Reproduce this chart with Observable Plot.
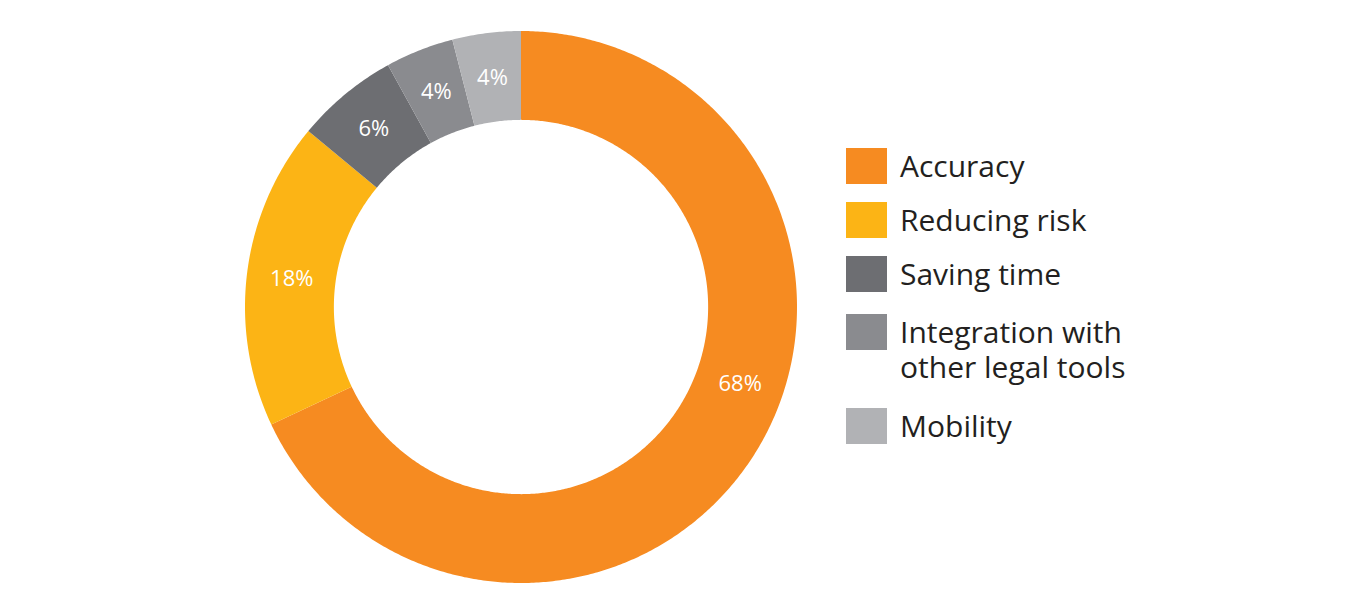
<!DOCTYPE html>
<html>
<head>
<meta charset="utf-8">
<script src="https://cdn.jsdelivr.net/npm/d3@7"></script>
<script src="https://cdn.jsdelivr.net/npm/@observablehq/plot@0.6"></script>
<style>
  html, body { margin: 0; padding: 0; background: #fff; }
  #wrap { position: relative; width: 1349px; height: 615px; font-family: "Open Sans", sans-serif; }
  #legend { position: absolute; left: 846px; top: 148px; color: #231f20; }
  .item { display: flex; align-items: flex-start; }
  .sw { width: 41px; height: 36px; flex: none; margin-right: 13px; }
  .lbl { font-size: 30px; line-height: 35px; white-space: nowrap; }
</style>
</head>
<body>
<div id="wrap"></div>
<script>
// ---- data ----
const categories = ["Accuracy", "Reducing risk", "Saving time", "Integration with other legal tools", "Mobility"];
const values = [68, 18, 6, 4, 4];
const valueLabels = ["68%", "18%", "6%", "4%", "4%"];
const legendLines = [["Accuracy"], ["Reducing risk"], ["Saving time"], ["Integration with", "other legal tools"], ["Mobility"]];
const colors = ["#F68B21", "#FCB415", "#6D6E72", "#8A8B8F", "#B1B2B5"];

// ---- geometry from data ----
const innerRatio = 0.678;
const rows = categories.map((c, i) => ({category: c, value: values[i], label: valueLabels[i]}));
const arcs = d3.pie().sort(null).value(d => d.value)(rows);

const arcPoints = [];
for (const a of arcs) {
  const n = Math.max(2, Math.ceil((a.endAngle - a.startAngle) / (2 * Math.PI) * 720));
  for (let k = 0; k <= n; k++) {
    const t = a.startAngle + (a.endAngle - a.startAngle) * k / n;
    arcPoints.push({
      category: a.data.category,
      xo: Math.sin(t), yo: Math.cos(t),
      xi: innerRatio * Math.sin(t), yi: innerRatio * Math.cos(t)
    });
  }
}
const labelR = (1 + innerRatio) / 2;
const labelNudge = {"Accuracy": -0.23}; // radians, label placement as in source
const labelPts = arcs.map(a => {
  const t = (a.startAngle + a.endAngle) / 2 + (labelNudge[a.data.category] || 0);
  return {label: a.data.label, x: labelR * Math.sin(t), y: labelR * Math.cos(t)};
});

const chart = Plot.plot({
  width: 1349,
  height: 615,
  marginLeft: 245,
  marginRight: 552,
  marginTop: 31,
  marginBottom: 32,
  x: {domain: [-1, 1], axis: null},
  y: {domain: [-1, 1], axis: null},
  color: {domain: categories, range: colors},
  style: {fontFamily: "Open Sans, sans-serif", background: "white"},
  marks: [
    Plot.area(arcPoints, {x1: "xi", y1: "yi", x2: "xo", y2: "yo", z: "category", fill: "category"}),
    Plot.text(labelPts, {x: "x", y: "y", text: "label", fill: "white", fontSize: 22})
  ]
});
const wrap = document.getElementById("wrap");
wrap.appendChild(chart);

// ---- legend ----
const legend = document.createElement("div");
legend.id = "legend";
const gaps = [0, 18, 18, 22, 24];
categories.forEach((c, i) => {
  const item = document.createElement("div");
  item.className = "item";
  item.style.marginTop = gaps[i] + "px";
  const sw = document.createElement("div");
  sw.className = "sw";
  sw.style.background = colors[i];
  const lbl = document.createElement("div");
  lbl.className = "lbl";
  lbl.innerHTML = legendLines[i].join("<br>");
  item.appendChild(sw);
  item.appendChild(lbl);
  legend.appendChild(item);
});
wrap.appendChild(legend);
</script>
</body>
</html>
